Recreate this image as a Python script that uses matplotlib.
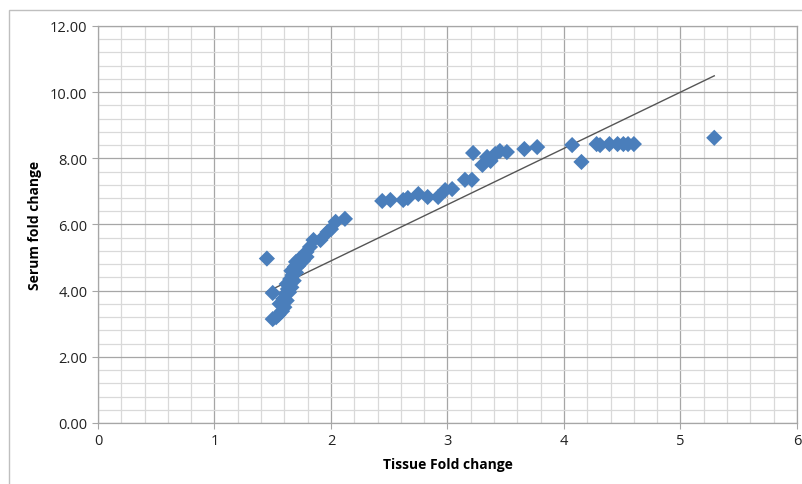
import numpy as np
import matplotlib.pyplot as plt
from matplotlib.ticker import MultipleLocator, FormatStrFormatter
from matplotlib.patches import Rectangle

plt.rcParams['font.family'] = ['Open Sans', 'DejaVu Sans']

# tissue vs serum fold change
tissue = [1.45, 1.50, 1.50, 1.55, 1.58, 1.56, 1.59, 1.61, 1.63, 1.62, 1.65, 1.67,
          1.66, 1.69, 1.70, 1.73, 1.76, 1.79, 1.79, 1.82, 1.85, 1.91, 1.97, 2.00,
          2.04, 2.12, 2.44, 2.51, 2.62, 2.66, 2.75, 2.83, 2.92, 2.98, 3.04, 3.15,
          3.21, 3.22, 3.30, 3.34, 3.37, 3.41, 3.45, 3.51, 3.66, 3.77, 4.07, 4.15,
          4.28, 4.31, 4.39, 4.46, 4.51, 4.55, 4.60, 5.29,
          1.53, 1.60, 1.62, 1.66, 1.68, 1.70, 1.72, 1.64]
serum = [4.97, 3.93, 3.14, 3.27, 3.38, 3.60, 3.75, 3.90, 4.05, 4.20, 4.35, 4.47,
         4.60, 4.72, 4.87, 4.96, 4.90, 5.02, 5.17, 5.32, 5.53, 5.53, 5.77, 5.86,
         6.08, 6.17, 6.71, 6.74, 6.74, 6.80, 6.92, 6.83, 6.83, 7.04, 7.07, 7.35,
         7.35, 8.16, 7.80, 8.04, 7.92, 8.13, 8.22, 8.19, 8.28, 8.34, 8.40, 7.89,
         8.43, 8.40, 8.43, 8.43, 8.43, 8.43, 8.43, 8.62,
         3.20, 3.50, 3.70, 4.10, 4.30, 4.55, 4.75, 3.95]

# linear trendline (as drawn)
slope = 1.70
intercept = 1.50

fig = plt.figure(figsize=(8.03, 4.85), dpi=100)
ax = fig.add_axes([0.122, 0.1258, 0.8705, 0.8186])

# outer chart border
fig.patches.append(Rectangle((9/803, -0.01), 1.0, 1 - 11/485 + 0.01,
                             transform=fig.transFigure, fill=False,
                             edgecolor='#bfbfbf', linewidth=1.0))

ax.set_xlim(0, 6)
ax.set_ylim(0, 12)
ax.xaxis.set_major_locator(MultipleLocator(1))
ax.xaxis.set_minor_locator(MultipleLocator(0.2))
ax.yaxis.set_major_locator(MultipleLocator(2))
ax.yaxis.set_minor_locator(MultipleLocator(0.4))
ax.yaxis.set_major_formatter(FormatStrFormatter('%.2f'))

ax.grid(which='major', color='#a6a6a6', linewidth=0.9)
ax.grid(which='minor', color='#d9d9d9', linewidth=0.9)
ax.set_axisbelow(True)

for s in ax.spines.values():
    s.set_color('#a6a6a6')
    s.set_linewidth(0.9)
ax.tick_params(which='major', length=4, color='#a6a6a6', labelsize=10.5, labelcolor='#222222')
ax.tick_params(which='minor', length=0)

ax.scatter(tissue, serum, marker='D', s=68, color='#4a7ebb', edgecolors='none', zorder=3)

xt = np.array([min(tissue), max(tissue)])
ax.plot(xt, slope * xt + intercept, color='#555555', linewidth=1.0, zorder=2)

ax.set_xlabel('Tissue Fold change', fontsize=10, fontweight='bold', labelpad=6)
ax.set_ylabel('Serum fold change', fontsize=10, fontweight='bold', labelpad=6)

fig.savefig('out.png', dpi=100)
